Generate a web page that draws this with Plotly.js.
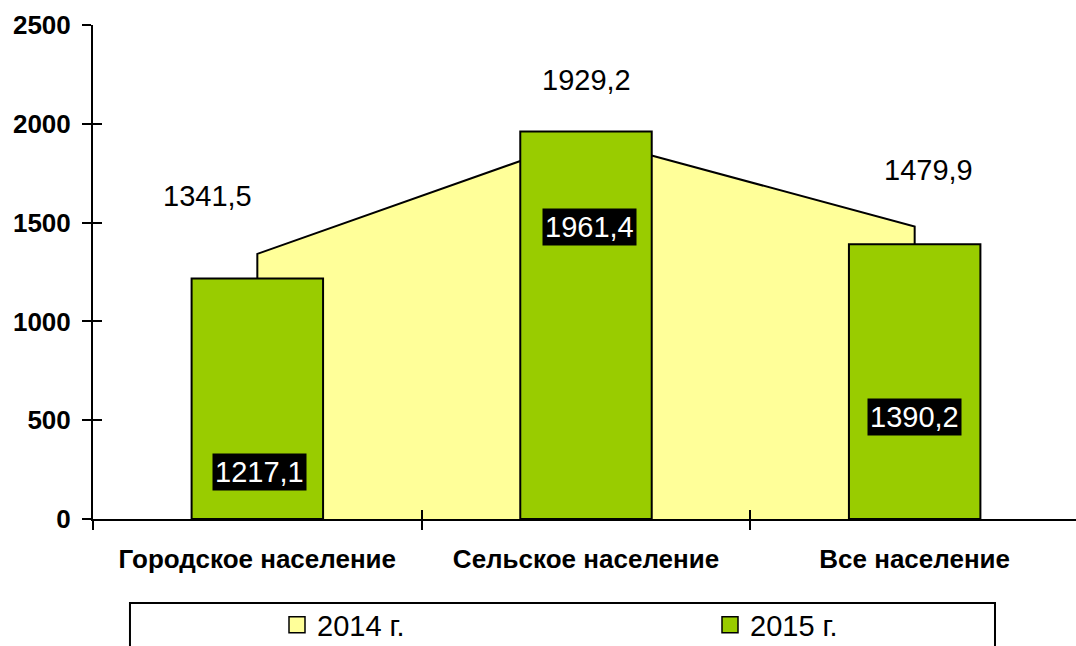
<!DOCTYPE html>
<html>
<head>
<meta charset="utf-8">
<script src="https://cdn.plot.ly/plotly-3.0.1.min.js"></script>
<style>
html, body { margin: 0; padding: 0; overflow: hidden; background: #fff; }
#chart { width: 1300px; height: 670px; }
</style>
</head>
<body>
<div id="chart"></div>
<script>
const categories = ["Городское население", "Сельское население", "Все население"];
const values2014 = [1341.5, 1929.2, 1479.9];
const values2015 = [1217.1, 1961.4, 1390.2];
const labels2014 = ["1341,5", "1929,2", "1479,9"];
const labels2015 = ["1217,1", "1961,4", "1390,2"];
const seriesNames = ["2014 г.", "2015 г."];
const yTicks = [0, 500, 1000, 1500, 2000, 2500];

const colorArea = "#FFFF99";
const colorBar = "#99CC00";
const FONT = "Liberation Sans, Arial, sans-serif";

// area polygon closed down to zero at first and last category
const areaX = [categories[0]].concat(categories, [categories[categories.length - 1]]);
const areaY = [0].concat(values2014, [0]);

const traces = [
  {
    type: "scatter", mode: "lines", x: areaX, y: areaY,
    xaxis: "x", yaxis: "y",
    fill: "toself", fillcolor: colorArea,
    line: { color: "#000", width: 2 },
    name: seriesNames[0], legendgroup: "a", showlegend: false, hoverinfo: "skip"
  },
  {
    type: "bar", x: categories, y: values2015,
    xaxis: "x2", yaxis: "y2", width: 0.4,
    marker: { color: colorBar, line: { color: "#000", width: 2 } },
    name: seriesNames[1], legendgroup: "b", showlegend: false
  },
  {
    type: "scatter", mode: "markers", x: [null], y: [null],
    xaxis: "x", yaxis: "y", legend: "legend",
    marker: { symbol: "square", size: 16, color: colorArea, line: { color: "#000", width: 1.5 } },
    name: seriesNames[0], legendgroup: "a", showlegend: true
  },
  {
    type: "scatter", mode: "markers", x: [null], y: [null],
    xaxis: "x", yaxis: "y", legend: "legend2",
    marker: { symbol: "square", size: 16, color: colorBar, line: { color: "#000", width: 1.5 } },
    name: seriesNames[1], legendgroup: "b", showlegend: true
  }
];

const off2014 = [[-50, 58], [0, 58], [14, 57]];
const off2015 = [[2, -193], [3, -96], [0, -173]];
const annotations = [];
categories.forEach((c, i) => {
  annotations.push({
    x: c, y: values2014[i], xref: "x", yref: "y",
    text: labels2014[i], showarrow: false,
    xshift: off2014[i][0], yshift: off2014[i][1],
    font: { family: FONT, size: 29, color: "#000" }
  });
  annotations.push({
    x: c, y: values2015[i], xref: "x", yref: "y",
    text: labels2015[i], showarrow: false,
    xshift: off2015[i][0], yshift: off2015[i][1],
    bgcolor: "#000", borderpad: 2,
    font: { family: FONT, size: 29, color: "#fff" }
  });
});

const yRange = [0, 2500];
const xRange = [-0.5, categories.length - 0.5];
const legendBase = {
  orientation: "h", xanchor: "left", y: -0.2146, yanchor: "middle",
  bgcolor: "rgba(0,0,0,0)", borderwidth: 0,
  font: { family: FONT, size: 29, color: "#000" },
  itemclick: false, itemdoubleclick: false
};

const layout = {
  width: 1300, height: 670,
  margin: { l: 93, r: 221, t: 25, b: 151 },
  paper_bgcolor: "#fff", plot_bgcolor: "rgba(0,0,0,0)",
  font: { family: FONT, color: "#000" },
  showlegend: true,
  xaxis: {
    type: "category", categoryarray: categories, range: xRange,
    tickson: "boundaries", ticks: "outside", ticklen: 9, tickwidth: 2, tickcolor: "#000",
    showline: true, linecolor: "#000", linewidth: 2, showgrid: false, zeroline: false,
    tickfont: { family: FONT, size: 26, weight: "bold", color: "#000" },
    ticklabelstandoff: 16, fixedrange: true
  },
  yaxis: {
    range: yRange, tickvals: yTicks, ticktext: yTicks.map(String),
    ticks: "outside", ticklen: 9, tickwidth: 2, tickcolor: "#000",
    showline: true, linecolor: "#000", linewidth: 2, showgrid: false, zeroline: false,
    tickfont: { family: FONT, size: 26, weight: "bold", color: "#000" },
    ticklabelstandoff: 6, fixedrange: true
  },
  xaxis2: {
    type: "category", categoryarray: categories, range: xRange, overlaying: "x", anchor: "y2", side: "bottom",
    tickson: "boundaries", ticks: "inside", ticklen: 9, tickwidth: 2, tickcolor: "#000",
    showline: false, showgrid: false, zeroline: false, showticklabels: false, fixedrange: true
  },
  yaxis2: {
    range: yRange, tickvals: yTicks, overlaying: "y", anchor: "x2", side: "left",
    ticks: "inside", ticklen: 9, tickwidth: 2, tickcolor: "#000",
    showline: false, showgrid: false, zeroline: false, showticklabels: false, fixedrange: true
  },
  legend: Object.assign({}, legendBase, { x: (277 - 93) / 986 }),
  legend2: Object.assign({}, legendBase, { x: (710 - 93) / 986 }),
  shapes: [{
    type: "rect", xref: "paper", yref: "paper",
    x0: 0.0375, x1: 0.9148, y0: -0.17, y1: -0.32,
    line: { color: "#000", width: 2 }, fillcolor: "#fff", layer: "below"
  }],
  annotations: annotations
};

Plotly.newPlot("chart", traces, layout, { displayModeBar: false, staticPlot: true });
</script>
</body>
</html>
